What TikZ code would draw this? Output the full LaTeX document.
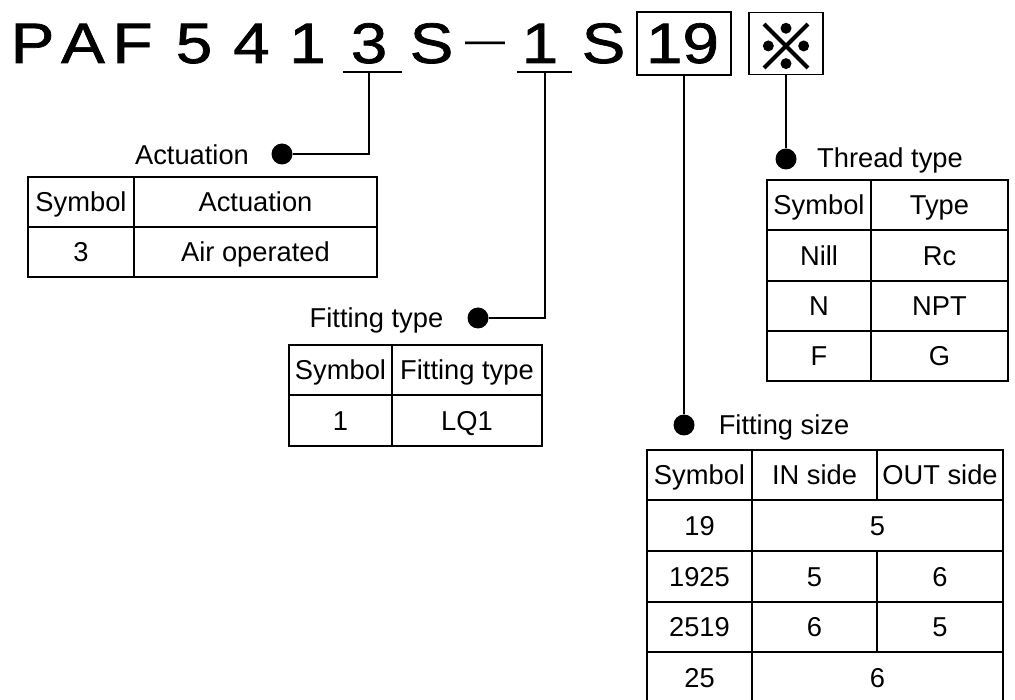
\documentclass[tikz,border=0pt]{standalone}
\usepackage{fontspec}
\setmainfont{Liberation Sans}
\newfontfamily\cjkfont{Noto Sans CJK JP}[FakeBold=2.5]
\newfontfamily\titlefont{Liberation Sans}[FakeBold=1.2]
\newcommand\widetxt[1]{\scalebox{1.15}[1]{#1}}
\begin{document}
\begin{tikzpicture}[x=1pt,y=-1pt,
  ln/.style={line width=1.3pt},
  tt/.style={font=\titlefont\fontsize{57}{60}\selectfont, anchor=base, inner sep=0pt},
  cell/.style={font=\fontsize{27.3}{30}\selectfont, text height=19.5pt, text depth=0pt, inner sep=0pt, anchor=center},
  dot/.style={circle, fill=black, inner sep=0pt, minimum size=21pt},
  codebox/.style={draw, line width=1.3pt, inner sep=0pt}]
\useasboundingbox (0,0) rectangle (1015,700);

% ---------- title ----------
\node[tt] (tP) at (32.5,63) {\widetxt{P}};
\node[tt] (tA) at (83,63) {\widetxt{A}};
\node[tt] (tF) at (132.5,63) {\widetxt{F}};
\node[tt] (t5) at (194,63) {\widetxt{5}};
\node[tt] (t4) at (251.5,63) {\widetxt{4}};
\node[tt] (t1a) at (307.5,63) {\widetxt{1}};
\node[tt] (t3) at (369,63) {\widetxt{3}};
\node[tt] (tS1) at (431.5,63) {\widetxt{S}};
\node[tt, font=\fontsize{40}{42}\selectfont] (tdash) at (485,54) {—};
\node[tt] (t1b) at (540,63) {\widetxt{1}};
\node[tt] (tS2) at (603.5,63) {\widetxt{S}};
\node[codebox, minimum width=94pt, minimum height=63pt] (b19) at (684,43.5) {};
\node[tt] (t19) at (682.5,63) {\widetxt{19}};
\node[codebox, minimum width=74pt, minimum height=62pt] (bx) at (786,43.5) {};
\node[tt, font=\cjkfont\fontsize{62}{64}\selectfont] (tx) at (786,69.5) {※};

% underlines
\coordinate (u3L) at (343,72);
\coordinate (u3R) at (402,72);
\coordinate (u3C) at (369,72);
\coordinate (u1L) at (517,72);
\coordinate (u1R) at (572,72);
\coordinate (u1C) at (545,72);
\draw[ln] (u3L) -- (u3R);
\draw[ln] (u1L) -- (u1R);

% ---------- dots and labels ----------
\node[dot] (d1) at (282,154) {};
\node[cell] (lAct) at (192,155) {Actuation};
\node[dot] (d2) at (478,318) {};
\node[cell] (lFit) at (376.5,318) {Fitting type};
\node[dot] (d3) at (786,159) {};
\node[cell] (lThr) at (890,158) {Thread type};
\node[dot] (d4) at (684,425) {};
\node[cell] (lSize) at (784,425) {Fitting size};

% connectors
\draw[ln] (u3C) |- (d1);
\draw[ln] (u1C) |- (d2);
\draw[ln] (bx.south) -- (d3);
\draw[ln] (b19.south) -- (d4);

% ---------- Actuation table ----------
\draw[ln] (28,177) rectangle (377,277);
\draw[ln] (28,227) -- (377,227);
\draw[ln] (134,177) -- (134,277);
\node[cell] (a11) at (81,202) {Symbol};
\node[cell] (a12) at (255.5,202) {Actuation};
\node[cell] (a21) at (81,252) {3};
\node[cell] (a22) at (255.5,252) {Air operated};

% ---------- Fitting type table ----------
\draw[ln] (289,345) rectangle (542,446);
\draw[ln] (289,395) -- (542,395);
\draw[ln] (392,345) -- (392,446);
\node[cell] (f11) at (340.5,370) {Symbol};
\node[cell] (f12) at (467,370) {Fitting type};
\node[cell] (f21) at (340.5,420.5) {1};
\node[cell] (f22) at (467,420.5) {LQ1};

% ---------- Thread type table ----------
\draw[ln] (767,180) rectangle (1008,381);
\draw[ln] (767,230) -- (1008,230);
\draw[ln] (767,281) -- (1008,281);
\draw[ln] (767,331) -- (1008,331);
\draw[ln] (871,180) -- (871,381);
\node[cell] (h11) at (819,205) {Symbol};
\node[cell] (h12) at (939.5,205) {Type};
\node[cell] (h21) at (819,255.5) {Nill};
\node[cell] (h22) at (939.5,255.5) {Rc};
\node[cell] (h31) at (819,306) {N};
\node[cell] (h32) at (939.5,306) {NPT};
\node[cell] (h41) at (819,356) {F};
\node[cell] (h42) at (939.5,356) {G};

% ---------- Fitting size table ----------
\draw[ln] (647,700) -- (647,450) -- (1003,450) -- (1003,700);
\draw[ln] (647,500) -- (1003,500);
\draw[ln] (647,551) -- (1003,551);
\draw[ln] (647,602) -- (1003,602);
\draw[ln] (647,652) -- (1003,652);
\draw[ln] (752,450) -- (752,700);
\draw[ln] (877,450) -- (877,500);
\draw[ln] (877,551) -- (877,652);
\node[cell] (s11) at (699.5,475) {Symbol};
\node[cell] (s12) at (814.5,475) {IN side};
\node[cell] (s13) at (940,475) {OUT side};
\node[cell] (s21) at (699.5,525.5) {19};
\node[cell] (s22) at (877.5,525.5) {5};
\node[cell] (s31) at (699.5,576.5) {1925};
\node[cell] (s32) at (814.5,576.5) {5};
\node[cell] (s33) at (940,576.5) {6};
\node[cell] (s41) at (699.5,627) {2519};
\node[cell] (s42) at (814.5,627) {6};
\node[cell] (s43) at (940,627) {5};
\node[cell] (s51) at (699.5,677.5) {25};
\node[cell] (s52) at (877.5,677.5) {6};
\end{tikzpicture}
\end{document}
